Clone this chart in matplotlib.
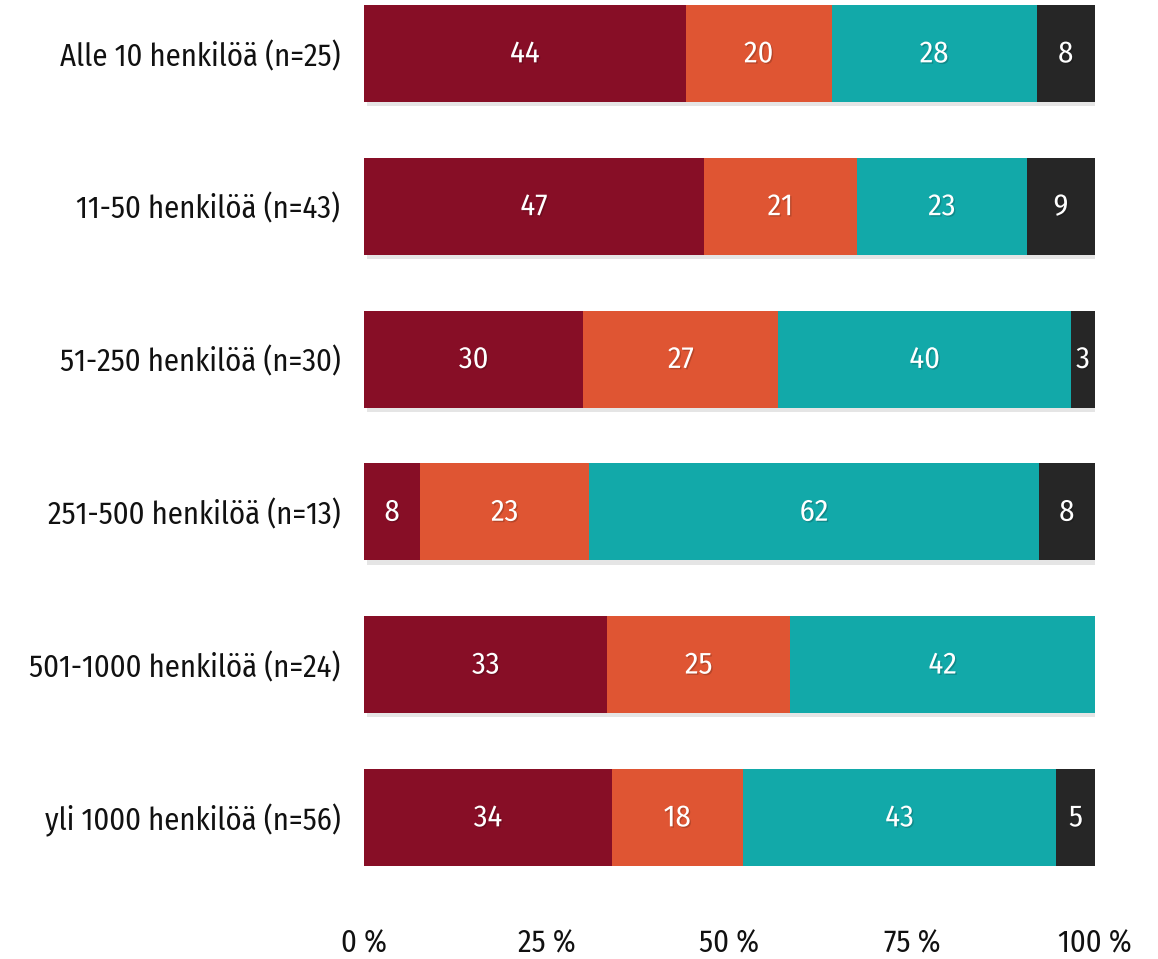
import matplotlib
matplotlib.use("Agg")
import matplotlib.pyplot as plt
import matplotlib.patheffects as pe
from matplotlib import font_manager

names = {f.name for f in font_manager.fontManager.ttflist}
prefs = ["Fira Sans Condensed", "PT Sans Narrow", "Roboto Condensed", "Open Sans Condensed",
         "Archivo Narrow", "Asap Condensed", "Liberation Sans Narrow"]
fam = next((p for p in prefs if p in names), "DejaVu Sans")
plt.rcParams['font.family'] = [fam, 'DejaVu Sans']
fs = 22 if fam == "Fira Sans Condensed" else 23

categories = ["Alle 10 henkilöä (n=25)", "11-50 henkilöä (n=43)", "51-250 henkilöä (n=30)",
              "251-500 henkilöä (n=13)", "501-1000 henkilöä (n=24)", "yli 1000 henkilöä (n=56)"]
s1 = [44.0, 46.5, 30.0, 7.7, 33.3, 33.9]
s2 = [20.0, 20.9, 26.7, 23.1, 25.0, 17.9]
s3 = [28.0, 23.3, 40.0, 61.5, 41.7, 42.9]
s4 = [8.0, 9.3, 3.3, 7.7, 0.0, 5.4]
series = [s1, s2, s3, s4]
colors = ["#870E26", "#DF5533", "#12A9A9", "#262626"]
xticks = [0, 25, 50, 75, 100]
xticklabels = ["0 %", "25 %", "50 %", "75 %", "100 %"]

W, H = 1158, 959
fig = plt.figure(figsize=(W/100, H/100), dpi=100)
h = 0.635
ax = fig.add_axes([364/W, 1 - 866/H, (1095-364)/W, (866-5)/H])
y = list(range(len(categories)))
left = [0.0]*len(categories)
shadow = [pe.SimplePatchShadow(offset=(2, -3), shadow_rgbFace='#000000', alpha=0.10), pe.Normal()]
tshadow = [pe.SimplePatchShadow(offset=(1, -1), shadow_rgbFace='#000000', alpha=0.18), pe.Normal()]
for vals, col in zip(series, colors):
    ax.barh(y, vals, left=left, height=h, color=col, edgecolor='none', path_effects=shadow)
    for yi, l, v in zip(y, left, vals):
        if v > 0:
            ax.text(l + v/2, yi, f"{int(v + 0.5):d}", ha='center', va='center', color='white',
                    fontsize=fs, path_effects=tshadow)
    left = [a + b for a, b in zip(left, vals)]

ax.set_xlim(0, 100)
ax.set_ylim(len(categories) - 1 + h/2, -h/2)
ax.set_yticks(y)
ax.set_yticklabels(categories, fontsize=fs, color='#111111')
ax.set_xticks(xticks)
ax.set_xticklabels(xticklabels, fontsize=fs, color='#111111')
ax.tick_params(axis='both', length=0)
ax.tick_params(axis='y', pad=17)
ax.tick_params(axis='x', pad=45)
for s in ax.spines.values():
    s.set_visible(False)
fig.savefig("out.png", dpi=100)
